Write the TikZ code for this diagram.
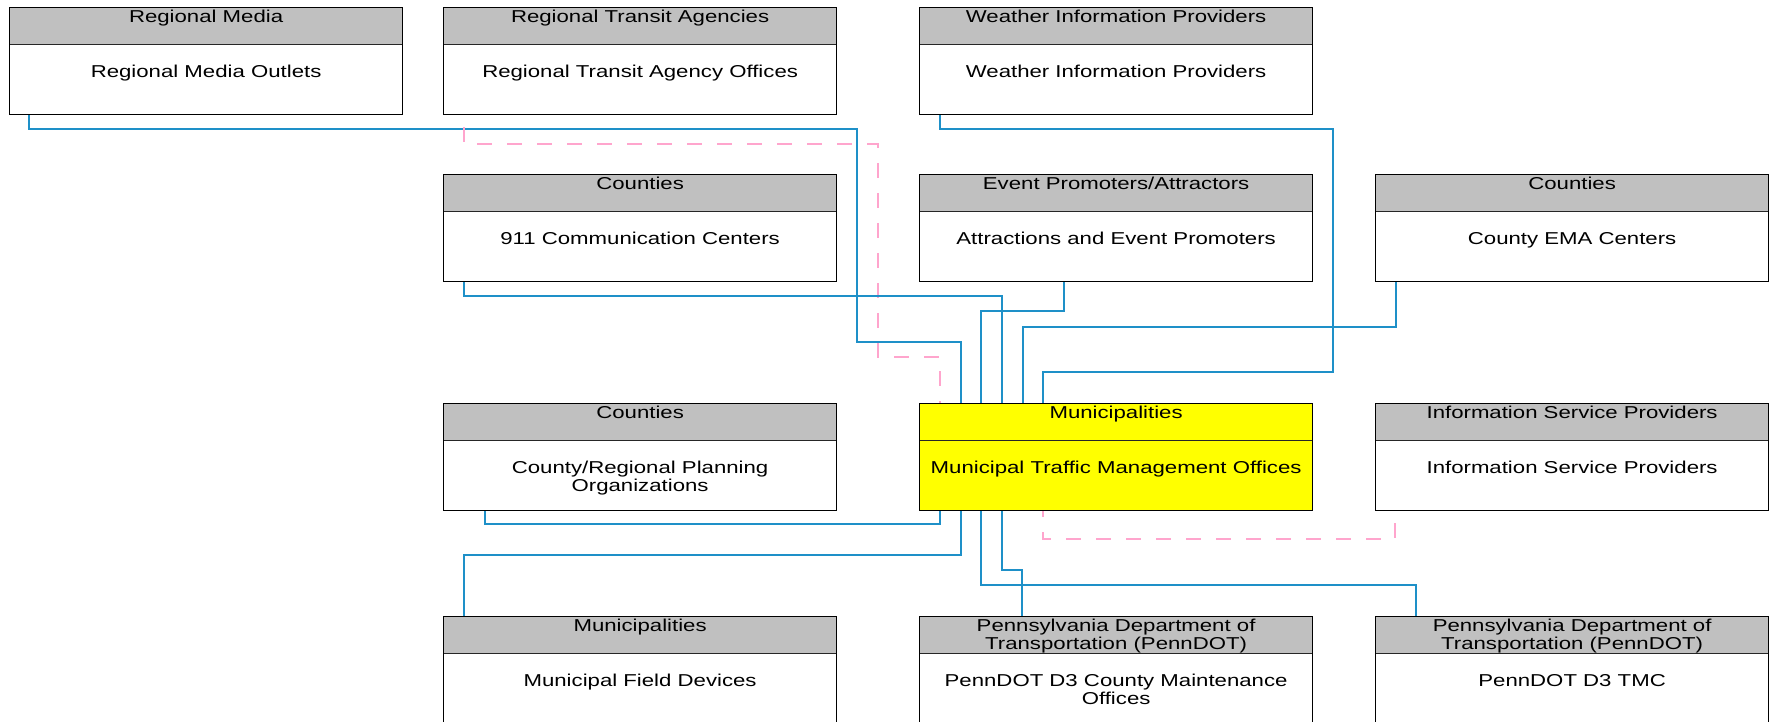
\documentclass[tikz,border=0pt]{standalone}
\usepackage{fontspec}
\setmainfont[FakeStretch=1.29]{Liberation Sans}
\usetikzlibrary{calc}
\definecolor{flowblue}{RGB}{30,144,200}
\definecolor{flowpink}{RGB}{255,165,205}
\definecolor{hdgray}{RGB}{192,192,192}
\definecolor{tmcyellow}{RGB}{255,255,0}

\begin{document}
\begin{tikzpicture}[x=1pt, y=-1pt,
  sysbox/.style={draw=black, fill=white, line width=1.2pt, anchor=north west,
                 minimum width=393pt, minimum height=107pt, inner sep=0pt,
                 path picture={
                   \fill[#1] (path picture bounding box.north west)
                     rectangle ([yshift=-37pt]path picture bounding box.north east);
                   \draw[black!85, line width=1.2pt]
                     ([yshift=-37pt]path picture bounding box.north west)
                     -- ([yshift=-37pt]path picture bounding box.north east);}},
  sysbox/.default=hdgray,
  hdtext/.style={anchor=north, inner sep=0pt, align=center,
                 font=\fontsize{17.2}{18.3}\selectfont},
  flow/.style={flowblue, line width=1.1pt},
  softflow/.style={flowpink, line width=1.1pt, dash pattern=on 15pt off 15pt,
                   dash phase=18pt},
]
  \useasboundingbox (0,0) rectangle (1771,721);

  % Boxes
  \node[sysbox] (media) at (9,7) {};
  \node[hdtext] (media-hd) at ([yshift=-2.4pt]media.north) {Regional Media};
  \node[hdtext] (media-bd) at ([yshift=-58pt]media.north) {Regional Media Outlets};

  \node[sysbox] (transit) at (443,7) {};
  \node[hdtext] (transit-hd) at ([yshift=-2.4pt]transit.north) {Regional Transit Agencies};
  \node[hdtext] (transit-bd) at ([yshift=-58pt]transit.north) {Regional Transit Agency Offices};

  \node[sysbox] (weather) at (919,7) {};
  \node[hdtext] (weather-hd) at ([yshift=-2.4pt]weather.north) {Weather Information Providers};
  \node[hdtext] (weather-bd) at ([yshift=-58pt]weather.north) {Weather Information Providers};

  \node[sysbox] (psap) at (443,174) {};
  \node[hdtext] (psap-hd) at ([yshift=-2.4pt]psap.north) {Counties};
  \node[hdtext] (psap-bd) at ([yshift=-58pt]psap.north) {911 Communication Centers};

  \node[sysbox] (events) at (919,174) {};
  \node[hdtext] (events-hd) at ([yshift=-2.4pt]events.north) {Event Promoters/Attractors};
  \node[hdtext] (events-bd) at ([yshift=-58pt]events.north) {Attractions and Event Promoters};

  \node[sysbox] (ema) at (1375,174) {};
  \node[hdtext] (ema-hd) at ([yshift=-2.4pt]ema.north) {Counties};
  \node[hdtext] (ema-bd) at ([yshift=-58pt]ema.north) {County EMA Centers};

  \node[sysbox] (plan) at (443,403) {};
  \node[hdtext] (plan-hd) at ([yshift=-2.4pt]plan.north) {Counties};
  \node[hdtext] (plan-bd) at ([yshift=-58pt]plan.north) {County/Regional Planning\\Organizations};

  \node[sysbox=tmcyellow, fill=tmcyellow] (tmc) at (919,403) {};
  \node[hdtext] (tmc-hd) at ([yshift=-2.4pt]tmc.north) {Municipalities};
  \node[hdtext] (tmc-bd) at ([yshift=-58pt]tmc.north) {Municipal Traffic Management Offices};

  \node[sysbox] (isp) at (1375,403) {};
  \node[hdtext] (isp-hd) at ([yshift=-2.4pt]isp.north) {Information Service Providers};
  \node[hdtext] (isp-bd) at ([yshift=-58pt]isp.north) {Information Service Providers};

  \node[sysbox] (field) at (443,616) {};
  \node[hdtext] (field-hd) at ([yshift=-2.4pt]field.north) {Municipalities};
  \node[hdtext] (field-bd) at ([yshift=-58pt]field.north) {Municipal Field Devices};

  \node[sysbox] (maint) at (919,616) {};
  \node[hdtext] (maint-hd) at ([yshift=-2.4pt]maint.north) {Pennsylvania Department of\\Transportation (PennDOT)};
  \node[hdtext] (maint-bd) at ([yshift=-58pt]maint.north) {PennDOT D3 County Maintenance\\Offices};

  \node[sysbox] (penntmc) at (1375,616) {};
  \node[hdtext] (penntmc-hd) at ([yshift=-2.4pt]penntmc.north) {Pennsylvania Department of\\Transportation (PennDOT)};
  \node[hdtext] (penntmc-bd) at ([yshift=-58pt]penntmc.north) {PennDOT D3 TMC};

  % Flows into the top of the TMC
  \draw[flow] ([xshift=20pt]media.south west) |- (857,129) -- (857,342)
    -| ([xshift=42pt]tmc.north west);
  \draw[softflow] ([xshift=21pt]transit.south west) |- (878,144) -- (878,357)
    -| ([xshift=21pt]tmc.north west);
  \draw[flow] ([xshift=21pt]weather.south west) |- (1333,129) -- (1333,372)
    -| ([xshift=124pt]tmc.north west);
  \draw[flow] ([xshift=21pt]psap.south west) |- (1002,296) -- ([xshift=83pt]tmc.north west);
  \draw[flow] ([xshift=145pt]events.south west) |- (981,311) -- ([xshift=62pt]tmc.north west);
  \draw[flow] ([xshift=21pt]ema.south west) |- (1023,327) -- ([xshift=104pt]tmc.north west);

  % Flows from the bottom of the TMC
  \draw[flow] ([xshift=42pt]plan.south west) |- (940,524) -- ([xshift=21pt]tmc.south west);
  \draw[flow] ([xshift=21pt]field.north west) |- (961,555) -- ([xshift=42pt]tmc.south west);
  \draw[flow] ([xshift=41pt]penntmc.north west) |- (981,585) -- ([xshift=62pt]tmc.south west);
  \draw[flow] ([xshift=103pt]maint.north west) |- (1002,570) -- ([xshift=83pt]tmc.south west);
  \draw[softflow] ([xshift=20pt]isp.south west) |- (1043,539) -- ([xshift=124pt]tmc.south west);
\end{tikzpicture}
\end{document}
